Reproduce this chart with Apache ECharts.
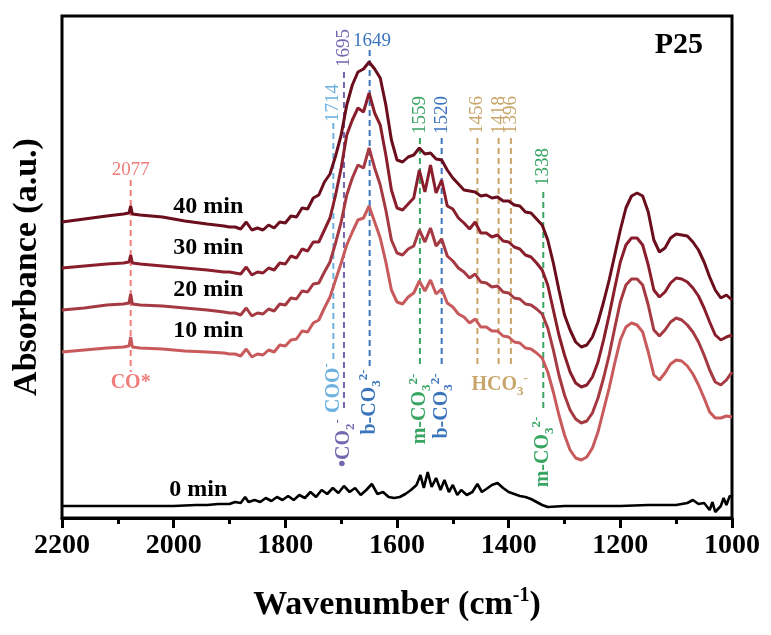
<!DOCTYPE html>
<html><head><meta charset="utf-8">
<script src="https://cdn.jsdelivr.net/npm/echarts@6/dist/echarts.min.js"></script>
<style>html,body{margin:0;padding:0;background:#fff}#c{width:771px;height:635px}</style>
</head><body><div id="c"></div>
<script>
// ---------- DATA ----------
const wavenumbers = [2200,2160,2120,2090,2080,2077,2074,2060,2020,1980,1940,1910,
 1900,1890,1880,1870,1860,1850,1840,1830,1820,1810,
 1800,1790,1780,1770,1760,1750,1740,1730,1720,1710,
 1700,1690,1680,1670,1660,1650,1640,1630,1620,1610,
 1600,1590,1580,1570,1560,1550,1540,1530,1520,1510,
 1500,1490,1480,1470,1460,1450,1440,1430,1420,1410,
 1400,1390,1380,1370,1360,1350,1340,1330,1320,1310,
 1300,1290,1280,1270,1260,1250,1240,1230,1220,1210,
 1200,1190,1180,1170,1160,1150,1140,1130,1120,1110,
 1100,1090,1080,1070,1060,1050,1040,1030,1020,1010,1000];

const abs40min = [29.6,29.9,30.2,30.4,30.5,31.2,30.4,30.3,30.1,29.7,29.4,29.2,
 29.1,29.1,28.9,29.6,28.8,29.0,28.8,29.3,29.0,29.6,
 29.5,30.2,30.1,31.0,30.9,32.0,32.3,33.6,34.4,36.2,
 38.3,41.3,43.3,44.6,44.9,45.6,44.9,44.0,41.3,37.8,
 35.8,35.6,36.1,36.3,37.0,36.4,36.5,35.9,35.8,34.8,
 34.0,33.4,32.8,32.7,32.6,32.2,32.3,32.0,32.1,31.7,
 31.7,31.3,31.2,30.6,30.5,29.9,29.3,27.8,25.5,22.8,
 20.3,18.8,17.6,17.1,17.3,18.1,19.6,21.6,23.8,26.3,
 28.8,31.0,32.2,32.5,32.2,30.6,27.8,26.6,27.0,28.0,
 28.4,28.3,28.2,27.6,26.8,25.6,24.1,22.8,22.0,22.3,21.8];

const abs30min = [25.0,25.2,25.4,25.5,25.6,26.3,25.5,25.4,25.2,25.0,24.8,24.6,
 24.6,24.5,24.4,25.1,24.3,24.6,24.5,25.0,24.8,25.5,
 25.4,26.2,26.0,26.9,26.7,27.6,27.6,28.8,30.0,32.3,
 35.0,38.3,39.8,41.0,40.6,42.5,40.5,39.3,36.3,32.8,
 31.0,30.8,31.4,32.0,34.8,32.6,35.3,32.5,33.8,31.2,
 30.9,30.0,29.5,28.9,29.6,28.5,28.5,28.1,28.3,27.7,
 27.6,27.1,26.9,26.3,26.1,25.5,24.8,23.3,20.8,18.3,
 16.3,14.6,13.5,13.1,13.3,14.1,15.6,17.8,20.3,23.0,
 25.6,27.3,28.0,28.0,27.3,25.3,22.8,22.1,22.6,23.5,
 24.0,23.9,23.6,23.0,22.2,21.0,19.6,18.3,17.8,18.1,18.3];

const abs20min = [20.8,21.0,21.3,21.4,21.5,22.4,21.4,21.3,21.2,21.0,20.8,20.6,
 20.5,20.5,20.3,21.0,20.2,20.5,20.4,20.9,20.7,21.4,
 21.3,22.0,21.9,22.7,22.6,23.4,23.5,24.6,25.6,27.5,
 29.6,32.3,34.0,35.3,35.0,37.0,35.0,33.3,30.8,27.8,
 26.5,26.3,26.9,27.2,28.8,27.6,29.0,27.2,27.9,26.2,
 25.7,25.0,24.6,24.0,24.4,23.6,23.5,23.1,23.2,22.6,
 22.5,22.0,21.9,21.4,21.3,20.9,20.4,19.0,16.8,14.3,
 12.3,10.8,9.9,9.5,9.7,10.5,12.0,14.0,16.3,19.0,
 21.6,23.3,23.9,23.9,23.3,21.3,18.8,18.2,18.8,19.6,
 20.0,19.8,19.3,18.6,17.6,16.3,14.8,13.6,13.3,13.8,14.6];

const abs10min = [16.6,16.8,17.0,17.1,17.2,18.1,17.1,17.0,16.9,16.7,16.6,16.5,
 16.4,16.4,16.2,16.9,16.1,16.4,16.3,16.8,16.6,17.3,
 17.2,17.8,17.9,18.7,18.6,19.5,19.8,21.0,22.1,23.8,
 25.5,27.3,28.6,29.8,30.0,31.2,29.6,28.0,25.6,22.8,
 21.6,21.4,22.1,22.5,23.7,22.7,23.8,22.4,22.9,21.5,
 21.1,20.4,20.1,19.5,19.9,19.1,19.1,18.7,18.7,18.2,
 18.1,17.6,17.5,17.0,16.9,16.5,16.0,14.6,12.6,10.3,
 8.3,6.8,6.0,5.8,6.1,7.0,8.6,10.8,13.0,15.5,
 17.8,19.1,19.5,19.3,18.6,16.6,14.3,13.8,14.5,15.4,
 15.8,15.7,15.2,14.4,13.3,12.0,10.6,10.0,10.0,10.2,10.1];

const wavenumbers0min = [2200,2100,2000,1960,1940,1920,1900,1890,1880,1872,
 1866,1855,1845,1835,1825,1815,1805,1795,1785,1775,
 1765,1755,1745,1735,1725,1715,1705,1695,1685,1675,
 1665,1655,1645,1635,1625,1615,1605,1595,1585,1575,
 1565,1558,1552,1545,1538,1530,1522,1515,1507,1500,
 1492,1485,1475,1465,1456,1448,1440,1430,1420,1410,
 1400,1390,1380,1370,1360,1350,1340,1330,1300,1250,
 1200,1150,1100,1080,1070,1060,1050,1040,1035,1030,
 1020,1015,1010,1004,1000];
const abs0min = [1.2,1.2,1.2,1.3,1.3,1.4,1.4,1.6,1.5,2.1,
 1.6,1.8,1.6,2.0,1.7,2.1,1.8,2.2,1.8,2.3,
 2.0,2.6,2.1,2.8,2.4,3.0,2.5,3.2,2.6,3.0,
 2.3,2.8,3.4,2.4,2.6,2.1,2.0,2.1,2.4,2.8,
 3.3,4.3,3.0,4.6,3.1,4.0,2.8,3.8,2.6,3.3,
 2.3,2.8,2.3,2.6,3.4,2.6,2.9,3.3,3.5,3.0,
 2.6,2.4,2.2,2.1,1.9,1.6,1.3,1.1,1.2,1.2,
 1.2,1.3,1.3,1.5,1.8,1.4,1.5,0.8,1.6,0.6,
 1.2,2.0,1.3,2.2,2.1];

const seriesNames = ['0 min','10 min','20 min','30 min','40 min'];
const xTicks = [2200,2000,1800,1600,1400,1200,1000];
const peakWavenumbers = [2077,1714,1695,1649,1559,1520,1456,1418,1396,1338];
const peakTexts = ['2077','1714','1695','1649','1559','1520','1456','1418','1396','1338'];

// ---------- STYLE / LAYOUT ----------
const FONT = '"Liberation Serif","Times New Roman",serif';
const curveColors = ['#000000','#c85a5c','#a63a42','#8a1e2c','#6a0d1c'];
const C = {salmon:'#f07c7c', sky:'#6cb0e0', purple:'#7466b0', blue:'#3a74bd', green:'#38a563', tan:'#c8a66a'};
// per peak: [dash top, dash bottom, color, label v, rotated?]
const peakStyle = {
  2077:[33.8,14.6,C.salmon,34.8,false], 1714:[39.5,15.6,C.sky,41.5,true],
  1695:[44.6,10.8,C.purple,47.0,true], 1649:[46.8,15.2,C.blue,47.7,false],
  1559:[38.0,15.0,C.green,40.3,true], 1520:[38.0,15.0,C.blue,40.3,true],
  1456:[38.0,15.0,C.tan,40.3,true], 1418:[38.0,15.0,C.tan,40.3,true],
  1396:[38.0,15.0,C.tan,40.3,true], 1338:[32.6,11.0,C.green,35.1,true]
};
const assignLabels = [
  {x:2077,y:13.5,text:'{m|CO*}',color:C.salmon,rot:0},
  {x:1714,y:13.0,text:'{m|COO}{p|-}',color:C.sky,rot:90},
  {x:1695,y:7.5,text:'{m|•CO}{s|2}{p|-}',color:C.purple,rot:90},
  {x:1649,y:11.6,text:'{m|b-CO}{s|3}{p|2-}',color:C.blue,rot:90},
  {x:1559,y:10.9,text:'{m|m-CO}{s|3}{p|2-}',color:C.green,rot:90},
  {x:1520,y:11.2,text:'{m|b-CO}{s|3}{p|2-}',color:C.blue,rot:90},
  {x:1416,y:13.3,text:'{m|HCO}{s|3}{p|-}',color:C.tan,rot:0},
  {x:1338,y:6.6,text:'{m|m-CO}{s|3}{p|2-}',color:C.green,rot:90}
];
const nameLabelPos = [[1956,2.8],[1938,18.7],[1938,22.8],[1938,27.0],[1938,31.1]];

const richSub = {
  m:{fontFamily:FONT,fontWeight:'bold',fontSize:20,lineHeight:26},
  s:{fontFamily:FONT,fontWeight:'bold',fontSize:13,verticalAlign:'bottom'},
  p:{fontFamily:FONT,fontWeight:'bold',fontSize:13,verticalAlign:'top'}
};
const hidden = {color:'rgba(0,0,0,0)',opacity:1};

const series = [];
// dashed guide lines
peakWavenumbers.forEach(w=>{
  const st = peakStyle[w];
  series.push({type:'line',silent:true,symbol:'none',z:1,animation:false,
    data:[[w,st[0]],[w,st[1]]],
    lineStyle:{color:st[2],width:2,type:[6,4]}});
});
// spectra
const curves = [
  [wavenumbers0min, abs0min],[wavenumbers, abs10min],[wavenumbers, abs20min],
  [wavenumbers, abs30min],[wavenumbers, abs40min]
];
curves.forEach((c,i)=>{
  series.push({type:'line',name:seriesNames[i],symbol:'none',z:3,animation:false,
    data:c[0].map((w,k)=>[w,c[1][k]]),
    lineStyle:{color:curveColors[i],width:i===0?2.6:3}});
});
// peak numbers
series.push({type:'scatter',z:5,animation:false,silent:true,symbolSize:0.01,
  itemStyle:hidden,
  data:peakWavenumbers.map((w,i)=>{
    const st=peakStyle[w];
    return {value:[w===1649?1645:w, st[3]],
      label:{show:true,position:'inside',formatter:peakTexts[i],rotate:st[4]?90:0,
        color:st[2],fontFamily:FONT,fontSize:19}};
  })});
// assignments
series.push({type:'scatter',z:5,animation:false,silent:true,symbolSize:0.01,
  itemStyle:hidden,
  data:assignLabels.map(a=>({value:[a.x,a.y],
    label:{show:true,position:'inside',formatter:a.text,rotate:a.rot,color:a.color,rich:richSub}}))});
// series name labels
series.push({type:'scatter',z:5,animation:false,silent:true,symbolSize:0.01,
  itemStyle:hidden,
  data:nameLabelPos.map((p,i)=>({value:p,
    label:{show:true,position:'inside',formatter:seriesNames[i],color:'#000',
      fontFamily:FONT,fontWeight:'bold',fontSize:24}}))});

const chart = echarts.init(document.getElementById('c'),null,{renderer:'canvas'});
chart.setOption({
  animation:false,
  backgroundColor:'#fff',
  grid:{left:62,right:39,top:16,bottom:117,show:true,borderColor:'#000',borderWidth:3,backgroundColor:'transparent'},
  xAxis:{type:'value',min:1000,max:2200,interval:200,inverse:true,
    axisLine:{lineStyle:{color:'#000',width:3}},
    axisTick:{length:10,lineStyle:{color:'#000',width:3}},
    minorTick:{show:true,splitNumber:2,length:6,lineStyle:{color:'#000',width:3}},
    splitLine:{show:false},
    axisLabel:{color:'#000',fontFamily:FONT,fontWeight:'bold',fontSize:28,margin:14,
      customValues: xTicks, formatter: v => String(v)},
    name:'{a|Wavenumber (cm}{b|-1}{a|)}',nameLocation:'middle',nameGap:68,
    nameTextStyle:{rich:{a:{fontFamily:FONT,fontWeight:'bold',fontSize:34,color:'#000',lineHeight:38},
      b:{fontFamily:FONT,fontWeight:'bold',fontSize:20,color:'#000',verticalAlign:'top'}}}
  },
  yAxis:{type:'value',min:0,max:50.2,
    axisLine:{show:false},axisTick:{show:false},axisLabel:{show:false},splitLine:{show:false},
    name:'Absorbance (a.u.)',nameLocation:'middle',nameGap:18,
    nameTextStyle:{fontFamily:FONT,fontWeight:'bold',fontSize:34,color:'#000'}
  },
  graphic:[{type:'text',right:68,top:30,style:{text:'P25',font:'bold 30px '+FONT,fill:'#000'}}],
  series:series
});
</script></body></html>
